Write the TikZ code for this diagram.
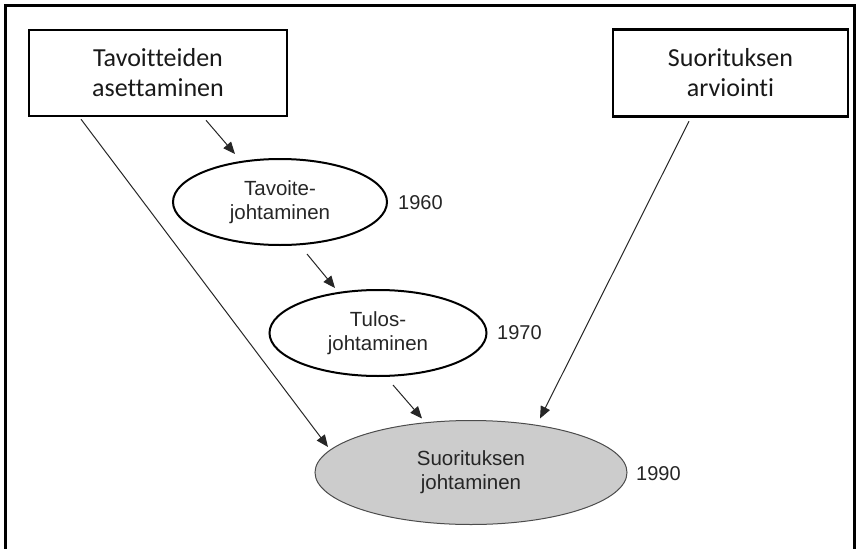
\documentclass[tikz,border=0pt]{standalone}
\usepackage{fontspec}
\usetikzlibrary{shapes.geometric,arrows.meta,calc}
\newfontfamily\boxfont[Ligatures=NoCommon]{Carlito}
\newfontfamily\ellfont{Liberation Sans}
\begin{document}
\begin{tikzpicture}[x=1pt,y=-1pt,
  framebox/.style={draw=black,line width=2.5pt,rectangle,inner sep=0pt,align=center,
    text=black!90,font=\boxfont\fontsize{26}{30}\selectfont},
  era/.style={draw=black,line width=2pt,ellipse,inner sep=0pt,align=center,
    text=black!85,font=\ellfont\fontsize{20.5}{24}\selectfont},
  year/.style={anchor=west,inner sep=0pt,text=black!85,font=\ellfont\fontsize{20}{23}\selectfont},
  arr/.style={draw=black!85,line width=1pt,-{Triangle[length=12pt,width=10pt]}}]
\useasboundingbox (0,0) rectangle (860,549);
% outer frame, open at the bottom
\draw[line width=3pt,black] (5.5,560) -- (5.5,5) -- (854,5) -- (854,560);

% source boxes
\node[framebox,minimum width=258,minimum height=86] (t1) at (158,73) {Tavoitteiden\\asettaminen};
\node[framebox,minimum width=235,minimum height=87] (t2) at (730.5,73) {Suorituksen\\arviointi};

% management eras
\node[era,minimum width=214,minimum height=86] (e1) at (280,202) {Tavoite-\\johtaminen};
\node[era,minimum width=217,minimum height=86] (e2) at (378,333) {Tulos-\\johtaminen};
\node[era,draw=black!70,line width=1pt,fill=black!20,minimum width=312,minimum height=104] (e3) at (471,472.5) {Suorituksen\\johtaminen};

% years
\node[year] (y1) at (398,203) {1960};
\node[year] (y2) at (497,333) {1970};
\node[year] (y3) at (636,474) {1990};

% connectors
\draw[arr] ($(t1.south)+(48,3)$) -- ($(e1.north)+(-45,-4)$);
\draw[arr] ($(e1.south)+(27,8)$) -- ($(e2.north)+(-43,-1)$);
\draw[arr] ($(e2.south)+(15,8)$) -- ($(e3.north)+(-49,-1.5)$);
\draw[arr] ($(t1.south)+(-77,2)$) -- ($(e3.center)+(-143,-25.5)$);
\draw[arr] ($(t2.south)+(-41.5,3.5)$) -- ($(e3.north)+(69,-1.5)$);
\end{tikzpicture}
\end{document}
